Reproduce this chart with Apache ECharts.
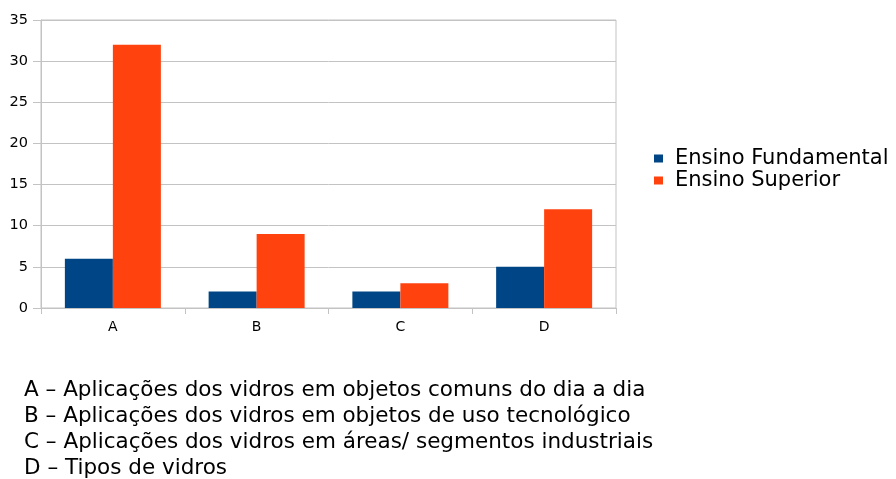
<!DOCTYPE html>
<html>
<head>
<meta charset="utf-8">
<script src="https://cdn.jsdelivr.net/npm/echarts@6/dist/echarts.min.js"></script>
<style>
  html, body { margin: 0; padding: 0; background: #fff; }
  #chart { width: 896px; height: 479px; }
</style>
</head>
<body>
<div id="chart"></div>
<script>
// Categories and series values
const categories = ['A', 'B', 'C', 'D'];
const fundamental = [6, 2, 2, 5];
const superior = [32, 9, 3, 12];
const seriesNames = ['Ensino Fundamental', 'Ensino Superior'];
const yTicks = { min: 0, max: 35, interval: 5 };

// Category descriptions printed under the chart
const notes = [
  'A \u2013 Aplica\u00e7\u00f5es dos vidros em objetos comuns do dia a dia',
  'B \u2013 Aplica\u00e7\u00f5es dos vidros em objetos de uso tecnol\u00f3gico',
  'C \u2013 Aplica\u00e7\u00f5es dos vidros em \u00e1reas/ segmentos industriais',
  'D \u2013 Tipos de vidros'
];

const FONT = '"DejaVu Sans", "Liberation Sans", sans-serif';
const GRID_COLOR = '#c3c3c3';

const chart = echarts.init(document.getElementById('chart'), null, { renderer: 'canvas' });

chart.setOption({
  backgroundColor: '#ffffff',
  animation: false,
  color: ['#004586', '#ff420e'],
  grid: {
    left: 41, right: 280, top: 20, bottom: 171,
    show: true, borderColor: GRID_COLOR, borderWidth: 1,
    backgroundColor: 'transparent'
  },
  legend: {
    orient: 'vertical',
    left: 654, top: 148,
    padding: 0,
    icon: 'rect',
    itemWidth: 9, itemHeight: 8,
    itemGap: 1,
    textStyle: {
      fontFamily: FONT, fontSize: 21, color: '#000',
      lineHeight: 19, padding: [0, 0, 0, 7]
    },
    data: seriesNames
  },
  xAxis: {
    type: 'category',
    data: categories,
    axisLine: { show: true, lineStyle: { color: GRID_COLOR } },
    axisTick: { show: true, length: 6, interval: 0, alignWithLabel: false, lineStyle: { color: GRID_COLOR } },
    axisLabel: { fontFamily: FONT, fontSize: 14, color: '#000', margin: 12 },
    splitLine: { show: false }
  },
  yAxis: {
    type: 'value',
    min: yTicks.min, max: yTicks.max, interval: yTicks.interval,
    axisLine: { show: true, lineStyle: { color: GRID_COLOR } },
    axisTick: { show: true, length: 8, lineStyle: { color: GRID_COLOR } },
    axisLabel: { fontFamily: FONT, fontSize: 14.5, color: '#000', margin: 13 },
    splitLine: { show: true, lineStyle: { color: GRID_COLOR } }
  },
  series: [
    { name: seriesNames[0], type: 'bar', data: fundamental, barWidth: 48, barGap: '0%' },
    { name: seriesNames[1], type: 'bar', data: superior, barWidth: 48, barGap: '0%' }
  ],
  graphic: notes.map((t, i) => ({
    type: 'text',
    left: 24,
    top: 379 + i * 26,
    style: { text: t, fontFamily: FONT, fontSize: 21.5, fill: '#000' }
  }))
});
</script>
</body>
</html>
